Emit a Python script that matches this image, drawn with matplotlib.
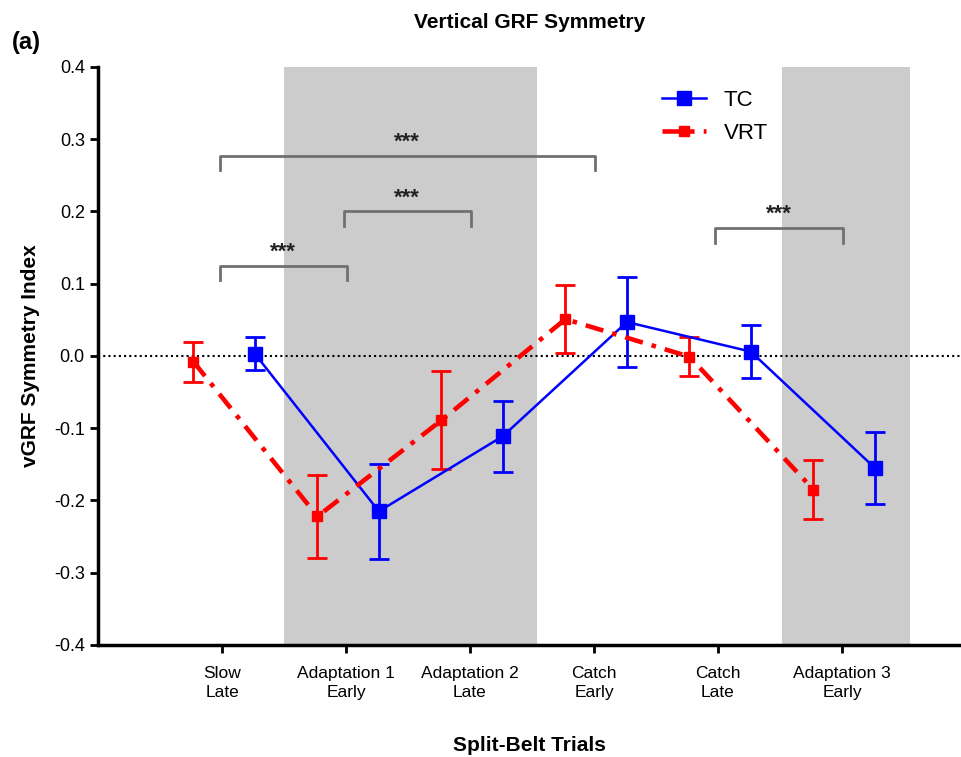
import matplotlib
matplotlib.use('Agg')
import matplotlib.pyplot as plt
from matplotlib.lines import Line2D
import numpy as np

plt.rcParams['font.family'] = ['Liberation Sans', 'DejaVu Sans']

categories = ['Slow\nLate', 'Adaptation 1\nEarly', 'Adaptation 2\nLate',
              'Catch\nEarly', 'Catch\nLate', 'Adaptation 3\nEarly']
tc_mean = [0.003, -0.215, -0.111, 0.047, 0.006, -0.155]
tc_err = [0.023, 0.066, 0.049, 0.062, 0.037, 0.050]
vrt_mean = [-0.008, -0.222, -0.089, 0.051, -0.001, -0.185]
vrt_err = [0.028, 0.057, 0.068, 0.047, 0.027, 0.041]
yticks = [-0.4, -0.3, -0.2, -0.1, 0.0, 0.1, 0.2, 0.3, 0.4]

# significance brackets: (start category, end category, height)
brackets = [(0, 1, 0.125), (1, 2, 0.200), (0, 3, 0.277), (4, 5, 0.177)]
shaded = [(0.5, 2.54), (4.52, 5.55)]

fig = plt.figure(figsize=(9.61, 7.57), dpi=100)
ax = fig.add_axes([0.102, 0.148, 0.898, 0.7635])

xs = np.arange(len(categories))
for a, b in shaded:
    ax.axvspan(a, b, color='#cccccc', lw=0, zorder=0)

ax.axhline(0, color='black', ls=(0, (1, 1.5)), lw=1.5, zorder=1)

vrt_ls = (0, (4, 2, 1, 2))
ax.errorbar(xs + 0.265, tc_mean, yerr=tc_err, color='#0000ff', lw=1.8,
            marker='s', ms=10, capsize=7, capthick=2, elinewidth=2, zorder=3)
ax.errorbar(xs - 0.23, vrt_mean, yerr=vrt_err, color='#ff0000', lw=3.3,
            ls=vrt_ls, marker='s', ms=7, capsize=7, capthick=2,
            elinewidth=2, zorder=3)

for i, j, h in brackets:
    x0, x1 = xs[i] - 0.02, xs[j] + 0.01
    ax.plot([x0, x0, x1, x1], [h - 0.02, h, h, h - 0.02], color='#707070',
            lw=2, zorder=2)
    ax.text((x0 + x1) / 2, h + 0.004, '***', ha='center', va='bottom',
            fontsize=16, fontweight='bold', color='#222222')

ax.set_xlim(-1.0, 5.96)
ax.set_ylim(-0.4, 0.4)
ax.set_yticks(yticks)
ax.set_yticklabels([f'{abs(v):.1f}' if v == 0 else f'{v:.1f}' for v in yticks])
ax.set_xticks(xs)
ax.set_xticklabels(categories, fontsize=12.5, linespacing=1.35)
ax.tick_params(axis='y', labelsize=13, width=2, length=6)
ax.tick_params(axis='x', width=2, length=6, pad=9)
for s in ['top', 'right']:
    ax.spines[s].set_visible(False)
for s in ['left', 'bottom']:
    ax.spines[s].set_linewidth(2.5)

ax.set_ylabel('vGRF Symmetry Index', fontsize=15, fontweight='bold', labelpad=10)
ax.set_xlabel('Split-Belt Trials', fontsize=15, fontweight='bold', labelpad=26)
ax.set_title('Vertical GRF Symmetry', fontsize=15, fontweight='bold', pad=28)
fig.text(0.012, 0.935, '(a)', fontsize=17, fontweight='bold')

handles = [Line2D([], [], color='#0000ff', lw=1.8, marker='s', ms=10),
           Line2D([], [], color='#ff0000', lw=3.3, ls=vrt_ls, marker='s', ms=7)]
ax.legend(handles, ['TC', 'VRT'], loc='upper left', bbox_to_anchor=(0.63, 0.995),
          frameon=False, fontsize=16, handlelength=2.0, labelspacing=0.55)

fig.savefig('out.png', dpi=100)
